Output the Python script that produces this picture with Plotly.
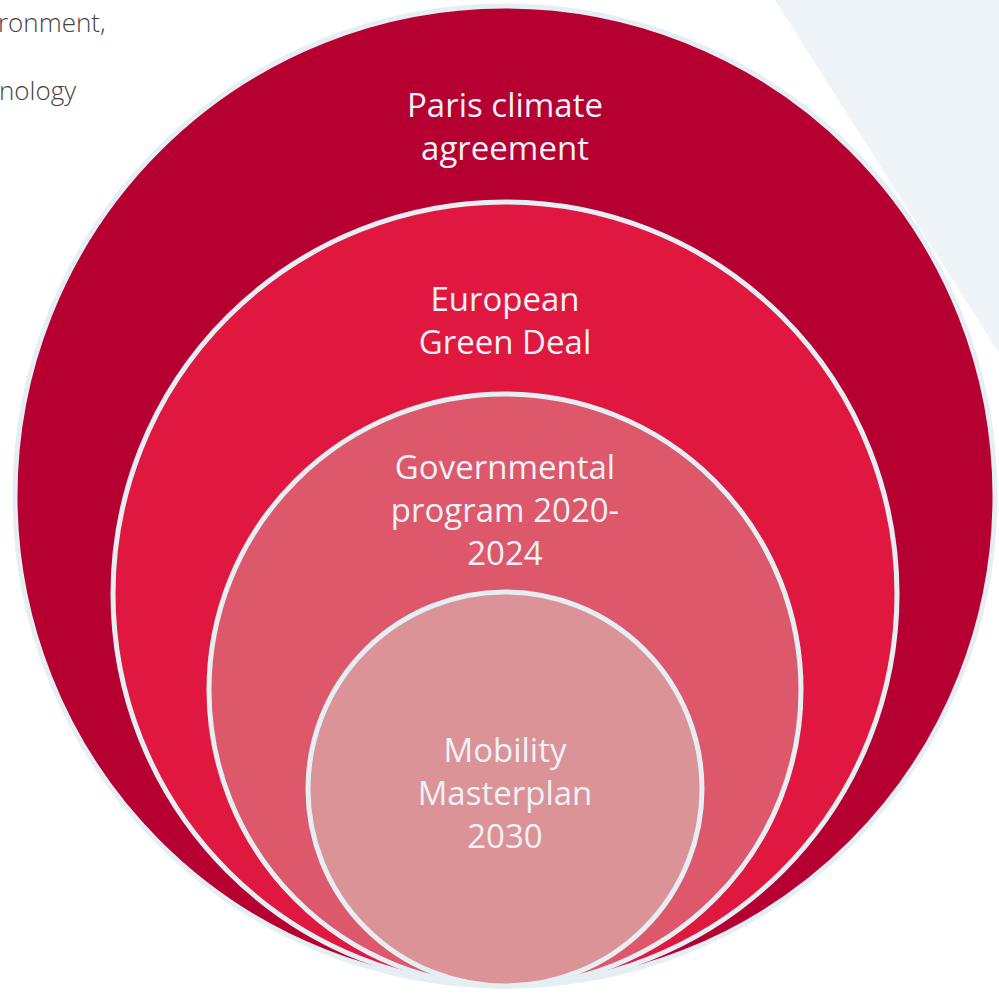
import plotly.graph_objects as go

# Data
labels = ["Paris climate<br>agreement", "European<br>Green Deal",
          "Governmental<br>program 2020-<br>2024", "Mobility<br>Masterplan<br>2030"]
radii = [490, 392, 296, 197]
label_y = [130, 324, 514, 797]
fills = ["#B50031", "#E0183F", "#DC586A", "#DB9398"]

cx = 505
bottom = 986

fig = go.Figure()

shapes = []
# background light triangle
shapes.append(dict(type="path", path="M 775 0 L 999 0 L 999 353 Z",
                   fillcolor="#EEF4F7", line=dict(width=0), layer="below"))
for r, c in zip(radii, fills):
    cy = bottom - r
    shapes.append(dict(type="circle", x0=cx - r, x1=cx + r, y0=cy - r, y1=cy + r,
                       fillcolor=c, line=dict(color="#E4EEF3", width=5), layer="below"))

fig.add_trace(go.Scatter(x=[cx] * len(labels), y=label_y, mode="text", text=labels,
                         textposition="middle center",
                         textfont=dict(family="Open Sans", size=33, color="#EEF2F6"),
                         hoverinfo="skip", showlegend=False))

fig.add_annotation(x=108, y=22, text="ronment,", showarrow=False, xanchor="right",
                   yanchor="middle", font=dict(family="Open Sans", size=26, color="#444444",
                                               weight=300))
fig.add_annotation(x=78, y=90, text="nology", showarrow=False, xanchor="right",
                   yanchor="middle", font=dict(family="Open Sans", size=26, color="#444444",
                                               weight=300))

fig.update_layout(width=999, height=995, margin=dict(l=0, r=0, t=0, b=0),
                  plot_bgcolor="white", paper_bgcolor="white", shapes=shapes,
                  xaxis=dict(range=[0, 999], visible=False, fixedrange=True),
                  yaxis=dict(range=[995, 0], visible=False, fixedrange=True))

fig.write_html("out.html", config={"displayModeBar": False},
               post_script="document.body.style.margin='0';document.body.style.overflow='hidden';")
